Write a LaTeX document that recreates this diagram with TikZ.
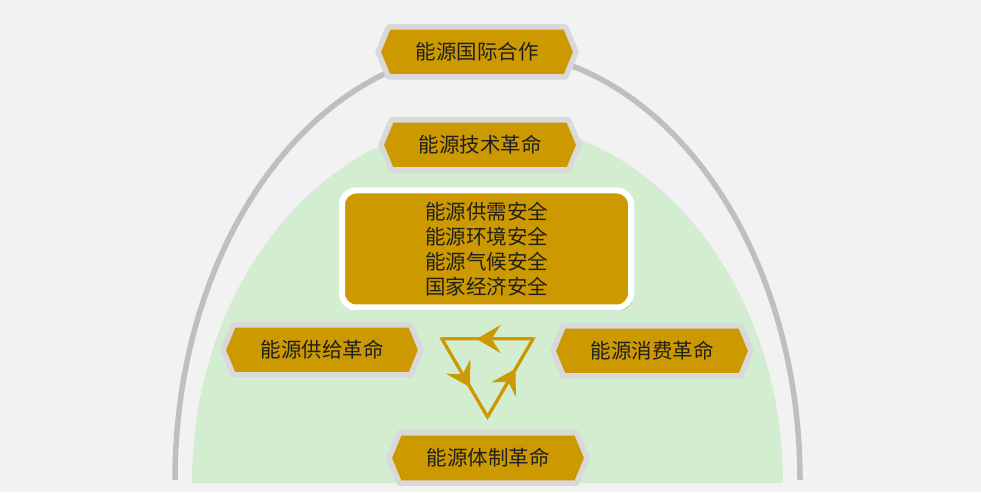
\documentclass[tikz,border=0pt]{standalone}
\usepackage{fontspec}
\setmainfont{Noto Sans CJK SC}
\usetikzlibrary{shapes.symbols,arrows.meta,decorations.markings,shadows}
\definecolor{bg}{HTML}{F2F2F2}
\definecolor{gold}{HTML}{CC9900}
\definecolor{rim}{HTML}{D9D9D9}
\definecolor{archc}{HTML}{BFBFBF}
\definecolor{greenf}{HTML}{D3EDD0}
\definecolor{ink}{HTML}{1F1F1F}
\begin{document}
\begin{tikzpicture}[x=1pt,y=1pt,
  hexa/.style={signal, signal to=east and west, signal pointer angle=135,
    minimum width=198pt, minimum height=50pt, inner sep=0pt,
    fill=gold, draw=rim, line width=5.5pt, line join=round, text=ink,
    font=\fontsize{20.5}{25}\selectfont},
  corebox/.style={rounded corners=14pt, fill=gold, draw=white, line width=6pt,
    minimum width=289pt, minimum height=117pt, inner sep=0pt, align=center,
    text=ink, font=\fontsize{20.5}{25}\selectfont,
    drop shadow={shadow xshift=2pt, shadow yshift=-3pt, opacity=0.3, fill=black}},
  triline/.style={draw=gold, line width=3pt, line join=miter},
  flowarrow/.style={draw=gold, line width=3pt,
    postaction={decorate, decoration={markings,
      mark=at position 0.62 with {\arrow[gold]{Stealth[length=24pt,width=28pt,inset=9pt]}}}}}
]
\useasboundingbox (0,0) rectangle (981,492);
\fill[bg] (0,0) rectangle (981,492);
% green dome
\fill[greenf] (192,9) arc[start angle=180, end angle=0, x radius=295.5, y radius=362] -- cycle;
% outer arch
\draw[archc, line width=5.5pt] (175,12) arc[start angle=180, end angle=0, x radius=312.5, y radius=430];
% hexagon nodes
\node[hexa] (intl) at (477,440) {能源国际合作};
\node[hexa] (tech) at (480,347) {能源技术革命};
\node[hexa] (supply) at (322,142) {能源供给革命};
\node[hexa] (consume) at (652,141) {能源消费革命};
\node[hexa] (system) at (488,34) {能源体制革命};
% central box
\node[corebox] (core) at (486.5,243) {能源供需安全\\能源环境安全\\能源气候安全\\国家经济安全};
% triangle cycle
\coordinate (ta) at (442,153);
\coordinate (tb) at (533,153);
\coordinate (tc) at (487.5,75);
\draw[triline] (ta) -- (tb) -- (tc) -- cycle;
\draw[flowarrow] (tb) -- (ta);
\draw[flowarrow] (ta) -- (tc);
\draw[flowarrow] (tc) -- (tb);
\end{tikzpicture}
\end{document}
